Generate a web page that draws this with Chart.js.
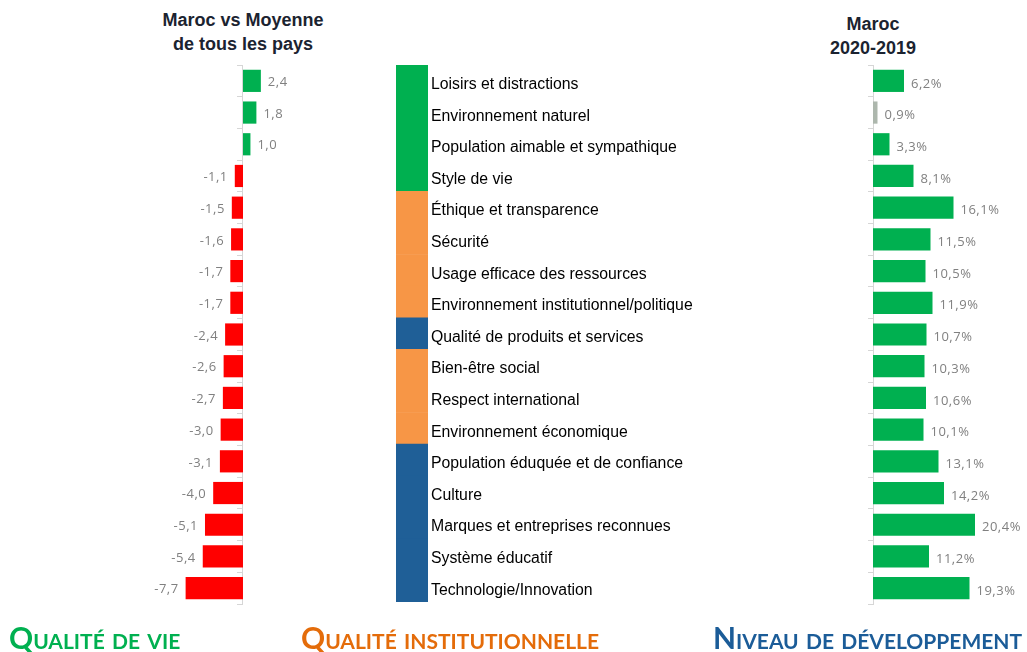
<!DOCTYPE html>
<html><head><meta charset="utf-8">
<script src="https://cdn.jsdelivr.net/npm/chart.js@4/dist/chart.umd.min.js"></script>
<style>
html,body{margin:0;padding:0;background:#fff;}
#wrap{position:relative;width:1027px;height:652px;overflow:hidden;}
canvas{position:absolute;top:0;}
.t{position:absolute;font-family:"Liberation Sans",Arial,sans-serif;font-weight:bold;font-size:18px;color:#1b2330;text-align:center;line-height:24px;}
.b{position:absolute;font-family:Lato,"Open Sans",sans-serif;font-weight:bold;font-size:29.9px;font-variant:small-caps;top:619px;white-space:nowrap;}
</style></head>
<body><div id="wrap">
<div class="t" style="left:143px;width:200px;top:8px;">Maroc vs Moyenne<br>de tous les pays</div>
<div class="t" style="left:773px;width:200px;top:12px;">Maroc<br>2020-2019</div>
<canvas id="cL" width="200" height="652" style="left:100px;width:200px;height:652px;"></canvas>
<canvas id="cM" width="332" height="652" style="left:396px;width:332px;height:652px;"></canvas>
<canvas id="cR" width="167" height="652" style="left:860px;width:167px;height:652px;"></canvas>
<div class="b" style="left:9px;color:#00B050;">Qualité de vie</div>
<div class="b" style="left:301px;color:#E46C0A;">Qualité institutionnelle</div>
<div class="b" style="left:713px;color:#1B5C98;">Niveau de développement</div>
</div>
<script>
const categories = ["Loisirs et distractions","Environnement naturel","Population aimable et sympathique","Style de vie","Éthique et transparence","Sécurité","Usage efficace des ressources","Environnement institutionnel/politique","Qualité de produits et services","Bien-être social","Respect international","Environnement économique","Population éduquée et de confiance","Culture","Marques et entreprises reconnues","Système éducatif","Technologie/Innovation"];
const vsAverage = [2.4,1.8,1.0,-1.1,-1.5,-1.6,-1.7,-1.7,-2.4,-2.6,-2.7,-3.0,-3.1,-4.0,-5.1,-5.4,-7.7];
const change2020_2019 = [6.2,0.9,3.3,8.1,16.1,11.5,10.5,11.9,10.7,10.3,10.6,10.1,13.1,14.2,20.4,11.2,19.3];
const groups = ["vie","vie","vie","vie","inst","inst","inst","inst","dev","inst","inst","inst","dev","dev","dev","dev","dev"];

const groupColors = {vie:"#00B050", inst:"#F79646", dev:"#1F5F97"};
const fmt = (v, suf) => v.toFixed(1).replace('.', ',') + suf;

function labelPlugin(suffix, dy){
  return {
    id:'vals',
    afterDatasetsDraw(chart){
      const ctx = chart.ctx;
      const meta = chart.getDatasetMeta(0);
      const data = chart.data.datasets[0].data;
      ctx.save();
      ctx.font = '13px "Open Sans", sans-serif';
      try { ctx.letterSpacing = '0.5px'; } catch(e) {}
      ctx.fillStyle = '#808080';
      ctx.textBaseline = 'middle';
      meta.data.forEach((el, i) => {
        const v = data[i];
        if (v >= 0){ ctx.textAlign = 'left'; ctx.fillText(fmt(v, suffix), el.x + 7, el.y + dy); }
        else { ctx.textAlign = 'right'; ctx.fillText(fmt(v, suffix), el.x - 7, el.y + dy); }
      });
      ctx.restore();
    }
  };
}

const axisY = {
  axis:'y', position:{x:0}, offset:true,
  grid:{drawOnChartArea:false, tickLength:5, color:'#d6d6d6', offset:true},
  border:{color:'#d6d6d6'},
  ticks:{display:false}
};

new Chart(document.getElementById('cL'), {
  type:'bar',
  data:{labels:categories, datasets:[{data:vsAverage,
    backgroundColor:vsAverage.map(v => v >= 0 ? '#00B050' : '#FF0000'),
    barPercentage:0.7, categoryPercentage:1}]},
  options:{indexAxis:'y', responsive:false, animation:false, devicePixelRatio:1,
    layout:{padding:{top:65,bottom:48,left:50,right:10}},
    plugins:{legend:{display:false}, tooltip:{enabled:false}},
    scales:{x:{display:false, min:-12.48, max:6.31}, y:axisY}},
  plugins:[labelPlugin('', 1.5)]
});

new Chart(document.getElementById('cM'), {
  type:'bar',
  data:{labels:categories, datasets:[{data:categories.map(() => 1),
    backgroundColor:groups.map(g => groupColors[g]), borderWidth:0,
    barPercentage:1, categoryPercentage:1}]},
  options:{indexAxis:'y', responsive:false, animation:false, devicePixelRatio:1,
    layout:{padding:{top:65,bottom:50,left:0,right:0}},
    plugins:{legend:{display:false}, tooltip:{enabled:false}},
    scales:{x:{display:false, min:0, max:1},
      y:{position:'right', grid:{display:false, drawTicks:false}, border:{display:false},
        ticks:{padding:3, labelOffset:4, color:'#000', font:{family:'"Liberation Sans", Arial, sans-serif', size:15.8}},
        afterFit(a){ a.width = 300; }}}}
});

new Chart(document.getElementById('cR'), {
  type:'bar',
  data:{labels:categories, datasets:[{data:change2020_2019,
    backgroundColor:change2020_2019.map(v => v < 2 ? '#ADB7AD' : '#00B050'),
    barPercentage:0.7, categoryPercentage:1}]},
  options:{indexAxis:'y', responsive:false, animation:false, devicePixelRatio:1,
    layout:{padding:{top:65,bottom:48,left:13,right:0}},
    plugins:{legend:{display:false}, tooltip:{enabled:false}},
    scales:{x:{display:false, min:0, max:30.8}, y:axisY}},
  plugins:[labelPlugin('%', 3)]
});
</script>
</body></html>
